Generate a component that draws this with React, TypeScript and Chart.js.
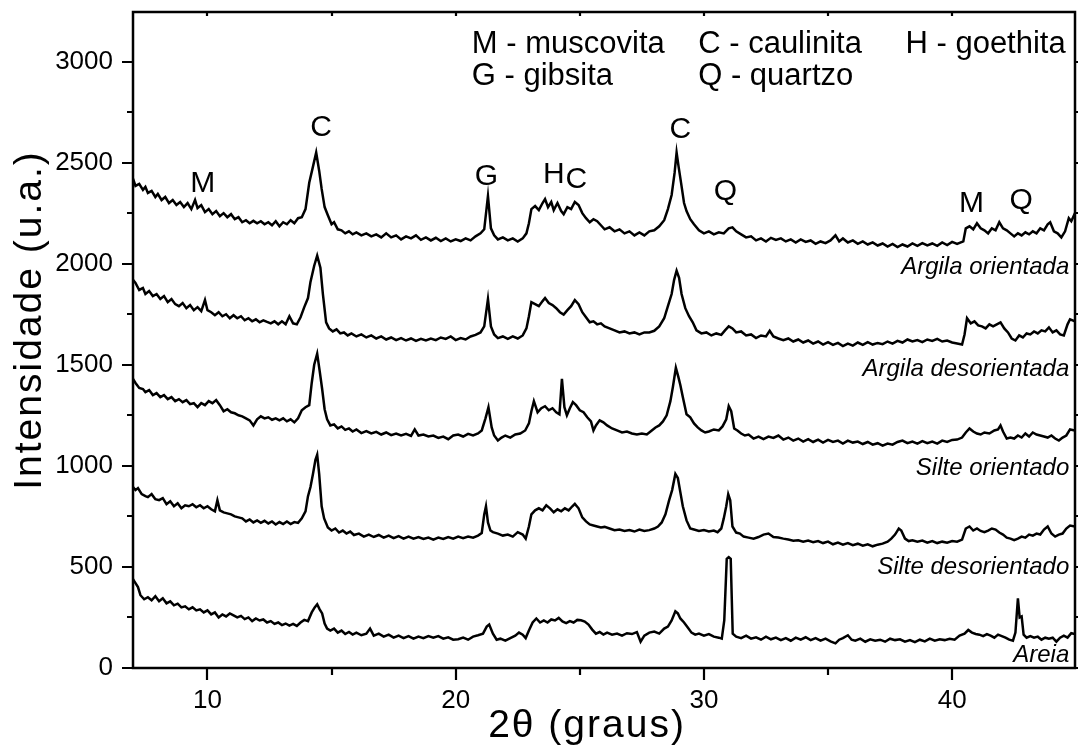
import { useEffect, useRef } from "react";
import { Chart, registerables } from "chart.js";

Chart.register(...registerables);

// ---------- axis ranges & ticks ----------
const X_MIN = 7;
const X_MAX = 44.95;
const Y_MIN = 0;
const Y_MAX = 3245;
const xMajorTicks = [10, 20, 30, 40];
const xMinorTicks = [15, 25, 35];
const yMajorTicks = [0, 500, 1000, 1500, 2000, 2500, 3000];
const yMinorTicks = [250, 750, 1250, 1750, 2250, 2750];

const xTitle = "2\u03B8 (graus)";
const yTitle = "Intensidade (u.a.)";

// ---------- series (2θ, intensity) ----------
const argilaOrientada: [number, number][] = [
  [7.0,2420],[7.1,2385],[7.25,2395],[7.4,2365],[7.5,2380],[7.6,2350],[7.75,2360],[7.9,2330],[8.0,2345],[8.15,2315],[8.3,2330],[8.45,2300],[8.6,2315],[8.75,2290],[8.9,2305],[9.05,2280],[9.2,2300],[9.35,2270],[9.5,2315],[9.6,2275],[9.75,2290],[9.9,2255],[10.05,2270],[10.2,2245],[10.35,2260],[10.5,2235],[10.65,2250],[10.8,2230],[10.95,2245],[11.1,2220],[11.25,2230],[11.4,2205],[11.55,2215],[11.7,2200],[11.85,2212],[12.0,2200],[12.15,2210],[12.3,2195],[12.45,2205],[12.6,2190],[12.75,2210],[12.9,2185],[13.05,2205],[13.2,2195],[13.35,2215],[13.5,2200],[13.65,2225],[13.8,2230],[13.95,2270],[14.1,2400],[14.25,2480],[14.38,2550],[14.5,2460],[14.6,2370],[14.72,2280],[14.85,2240],[15.0,2195],[15.1,2205],[15.25,2170],[15.4,2165],[15.55,2150],[15.7,2160],[15.85,2145],[16.0,2155],[16.2,2140],[16.4,2150],[16.6,2135],[16.8,2145],[17.0,2130],[17.2,2150],[17.4,2130],[17.6,2140],[17.8,2120],[18.0,2135],[18.2,2125],[18.4,2140],[18.6,2118],[18.8,2130],[19.0,2115],[19.2,2128],[19.4,2112],[19.6,2125],[19.8,2110],[20.0,2120],[20.2,2112],[20.4,2125],[20.6,2115],[20.8,2135],[21.0,2150],[21.15,2170],[21.3,2335],[21.42,2175],[21.55,2140],[21.7,2120],[21.9,2130],[22.1,2115],[22.3,2125],[22.5,2110],[22.7,2125],[22.85,2150],[22.95,2200],[23.05,2270],[23.2,2285],[23.35,2265],[23.5,2300],[23.6,2320],[23.72,2280],[23.85,2305],[23.95,2265],[24.1,2300],[24.25,2260],[24.35,2245],[24.5,2280],[24.65,2270],[24.8,2305],[24.95,2290],[25.1,2250],[25.25,2225],[25.4,2205],[25.55,2220],[25.7,2210],[25.85,2190],[26.0,2170],[26.2,2180],[26.4,2160],[26.6,2170],[26.8,2150],[27.0,2160],[27.2,2140],[27.4,2155],[27.6,2140],[27.8,2160],[28.0,2165],[28.2,2185],[28.4,2215],[28.55,2270],[28.7,2340],[28.82,2450],[28.9,2550],[28.98,2480],[29.08,2400],[29.2,2300],[29.3,2260],[29.45,2220],[29.6,2195],[29.8,2165],[30.0,2150],[30.2,2160],[30.4,2145],[30.6,2155],[30.8,2150],[31.0,2175],[31.15,2180],[31.3,2160],[31.5,2145],[31.7,2130],[31.9,2135],[32.1,2115],[32.3,2125],[32.5,2110],[32.7,2128],[32.9,2118],[33.1,2125],[33.3,2110],[33.5,2120],[33.7,2105],[33.9,2120],[34.1,2108],[34.3,2115],[34.5,2098],[34.7,2110],[34.9,2102],[35.1,2115],[35.3,2140],[35.45,2110],[35.6,2125],[35.8,2105],[36.0,2115],[36.2,2098],[36.4,2110],[36.6,2095],[36.8,2105],[37.0,2090],[37.2,2100],[37.4,2085],[37.6,2098],[37.8,2082],[38.0,2095],[38.2,2085],[38.4,2100],[38.6,2088],[38.8,2102],[39.0,2090],[39.2,2100],[39.4,2088],[39.6,2105],[39.8,2092],[40.0,2108],[40.2,2098],[40.45,2110],[40.55,2175],[40.7,2185],[40.85,2170],[41.0,2200],[41.15,2175],[41.3,2165],[41.45,2150],[41.6,2175],[41.75,2165],[41.9,2205],[42.05,2175],[42.2,2165],[42.35,2150],[42.5,2135],[42.65,2150],[42.8,2140],[42.95,2155],[43.1,2145],[43.25,2160],[43.4,2150],[43.55,2175],[43.7,2165],[43.85,2195],[43.95,2205],[44.1,2160],[44.25,2150],[44.4,2130],[44.55,2160],[44.7,2225],[44.8,2210],[44.95,2250]
];

const argilaDesorientada: [number, number][] = [
  [7.0,1920],[7.1,1905],[7.25,1870],[7.4,1880],[7.5,1850],[7.65,1865],[7.8,1840],[7.95,1850],[8.1,1825],[8.25,1840],[8.4,1810],[8.55,1825],[8.7,1800],[8.85,1790],[9.0,1805],[9.15,1780],[9.3,1795],[9.45,1770],[9.6,1785],[9.75,1765],[9.9,1820],[10.0,1770],[10.15,1760],[10.3,1745],[10.45,1760],[10.6,1740],[10.75,1750],[10.9,1730],[11.05,1745],[11.2,1730],[11.35,1740],[11.5,1720],[11.65,1730],[11.8,1715],[11.95,1725],[12.1,1710],[12.25,1720],[12.4,1712],[12.55,1705],[12.7,1715],[12.85,1700],[13.0,1715],[13.15,1700],[13.3,1740],[13.45,1705],[13.6,1700],[13.75,1735],[13.9,1785],[14.05,1830],[14.15,1910],[14.3,1990],[14.42,2040],[14.55,1980],[14.65,1850],[14.78,1710],[14.9,1680],[15.05,1665],[15.2,1675],[15.35,1655],[15.5,1660],[15.65,1645],[15.8,1655],[16.0,1640],[16.2,1650],[16.4,1635],[16.6,1645],[16.8,1630],[17.0,1640],[17.2,1625],[17.4,1635],[17.6,1622],[17.8,1632],[18.0,1620],[18.2,1630],[18.4,1618],[18.6,1628],[18.8,1620],[19.0,1630],[19.2,1622],[19.4,1635],[19.6,1628],[19.8,1640],[20.0,1622],[20.2,1632],[20.4,1625],[20.6,1640],[20.8,1648],[21.0,1660],[21.15,1690],[21.3,1825],[21.42,1690],[21.55,1650],[21.7,1632],[21.9,1640],[22.1,1628],[22.3,1640],[22.5,1630],[22.7,1645],[22.85,1680],[22.95,1740],[23.05,1810],[23.2,1800],[23.35,1790],[23.5,1815],[23.6,1830],[23.75,1805],[23.9,1795],[24.05,1780],[24.2,1760],[24.35,1748],[24.5,1770],[24.65,1790],[24.8,1820],[24.95,1800],[25.1,1760],[25.25,1735],[25.4,1710],[25.55,1715],[25.7,1700],[25.85,1705],[26.0,1690],[26.2,1680],[26.4,1670],[26.6,1660],[26.8,1665],[27.0,1655],[27.2,1660],[27.4,1650],[27.6,1660],[27.8,1660],[28.0,1668],[28.2,1690],[28.4,1730],[28.55,1790],[28.7,1850],[28.8,1920],[28.9,1965],[29.0,1930],[29.1,1850],[29.25,1780],[29.4,1740],[29.55,1710],[29.7,1670],[29.9,1655],[30.1,1660],[30.3,1645],[30.5,1655],[30.7,1648],[30.85,1670],[31.0,1690],[31.15,1680],[31.3,1660],[31.5,1665],[31.7,1645],[31.9,1650],[32.1,1632],[32.3,1645],[32.5,1640],[32.65,1668],[32.8,1640],[33.0,1630],[33.2,1622],[33.4,1630],[33.6,1615],[33.8,1625],[34.0,1610],[34.2,1620],[34.4,1605],[34.6,1615],[34.8,1600],[35.0,1612],[35.2,1598],[35.4,1608],[35.6,1592],[35.8,1605],[36.0,1595],[36.2,1610],[36.4,1598],[36.6,1612],[36.8,1600],[37.0,1608],[37.2,1602],[37.4,1615],[37.6,1605],[37.8,1618],[38.0,1610],[38.2,1625],[38.4,1615],[38.6,1622],[38.8,1612],[39.0,1625],[39.2,1618],[39.4,1628],[39.6,1615],[39.8,1620],[40.0,1610],[40.2,1605],[40.4,1600],[40.5,1650],[40.6,1730],[40.75,1705],[40.9,1715],[41.05,1695],[41.2,1690],[41.35,1680],[41.5,1700],[41.65,1690],[41.8,1700],[41.95,1710],[42.1,1680],[42.25,1660],[42.4,1630],[42.55,1620],[42.7,1645],[42.85,1635],[43.0,1655],[43.15,1650],[43.3,1665],[43.45,1655],[43.6,1670],[43.75,1665],[43.9,1685],[44.05,1660],[44.2,1670],[44.35,1650],[44.5,1645],[44.65,1700],[44.75,1725],[44.95,1715]
];

const silteOrientado: [number, number][] = [
  [7.0,1430],[7.1,1410],[7.25,1385],[7.4,1380],[7.5,1365],[7.65,1375],[7.8,1350],[7.95,1360],[8.1,1340],[8.25,1350],[8.4,1330],[8.55,1340],[8.7,1320],[8.85,1330],[9.0,1315],[9.15,1325],[9.3,1305],[9.45,1310],[9.6,1290],[9.75,1310],[9.9,1300],[10.05,1320],[10.2,1310],[10.35,1325],[10.5,1300],[10.65,1270],[10.8,1280],[10.95,1265],[11.1,1260],[11.25,1250],[11.4,1245],[11.55,1235],[11.7,1225],[11.85,1200],[12.0,1230],[12.15,1245],[12.3,1235],[12.45,1240],[12.6,1228],[12.75,1235],[12.9,1225],[13.05,1235],[13.2,1220],[13.35,1230],[13.5,1215],[13.65,1235],[13.8,1275],[13.95,1290],[14.1,1300],[14.2,1410],[14.3,1500],[14.42,1555],[14.52,1470],[14.62,1380],[14.72,1280],[14.82,1230],[14.95,1200],[15.1,1205],[15.25,1185],[15.4,1195],[15.55,1178],[15.7,1185],[15.85,1170],[16.0,1180],[16.2,1162],[16.4,1172],[16.6,1160],[16.8,1168],[17.0,1155],[17.2,1165],[17.4,1152],[17.6,1160],[17.8,1150],[18.0,1158],[18.2,1148],[18.35,1180],[18.5,1150],[18.7,1155],[18.9,1145],[19.1,1150],[19.3,1138],[19.5,1145],[19.7,1132],[19.9,1150],[20.1,1155],[20.3,1145],[20.5,1158],[20.7,1150],[20.9,1160],[21.05,1175],[21.2,1235],[21.32,1290],[21.45,1190],[21.55,1150],[21.7,1125],[21.85,1140],[22.0,1150],[22.2,1140],[22.4,1155],[22.6,1160],[22.8,1175],[22.95,1210],[23.05,1270],[23.15,1320],[23.3,1265],[23.45,1285],[23.6,1295],[23.75,1275],[23.9,1285],[24.05,1265],[24.18,1255],[24.28,1430],[24.38,1290],[24.48,1250],[24.6,1285],[24.72,1315],[24.85,1300],[25.0,1275],[25.15,1265],[25.3,1240],[25.45,1220],[25.55,1175],[25.65,1200],[25.8,1225],[25.95,1215],[26.1,1200],[26.3,1185],[26.5,1175],[26.7,1165],[26.9,1170],[27.1,1160],[27.3,1155],[27.5,1160],[27.7,1155],[27.9,1175],[28.05,1190],[28.2,1200],[28.35,1220],[28.5,1250],[28.65,1320],[28.75,1390],[28.87,1485],[28.97,1440],[29.05,1400],[29.15,1340],[29.3,1255],[29.45,1240],[29.6,1210],[29.75,1190],[29.9,1175],[30.05,1165],[30.2,1170],[30.4,1180],[30.6,1175],[30.75,1195],[30.9,1230],[31.0,1295],[31.1,1270],[31.22,1185],[31.35,1175],[31.5,1160],[31.65,1150],[31.8,1155],[32.0,1135],[32.2,1145],[32.4,1132],[32.6,1145],[32.8,1138],[33.0,1150],[33.2,1130],[33.4,1140],[33.6,1125],[33.8,1135],[34.0,1120],[34.2,1132],[34.4,1118],[34.6,1130],[34.8,1115],[35.0,1128],[35.2,1118],[35.4,1125],[35.6,1110],[35.8,1125],[36.0,1115],[36.2,1120],[36.4,1108],[36.6,1118],[36.8,1105],[37.0,1112],[37.2,1100],[37.4,1110],[37.6,1105],[37.8,1118],[38.0,1125],[38.2,1112],[38.4,1120],[38.6,1110],[38.8,1122],[39.0,1112],[39.2,1120],[39.4,1110],[39.6,1125],[39.8,1118],[40.0,1128],[40.2,1130],[40.4,1140],[40.55,1165],[40.7,1185],[40.85,1170],[41.0,1160],[41.15,1155],[41.3,1165],[41.5,1160],[41.7,1175],[41.85,1180],[41.95,1200],[42.05,1170],[42.2,1135],[42.35,1140],[42.5,1135],[42.65,1150],[42.8,1140],[42.95,1160],[43.1,1145],[43.25,1165],[43.4,1155],[43.55,1150],[43.7,1145],[43.85,1140],[44.0,1150],[44.15,1135],[44.3,1125],[44.45,1140],[44.6,1150],[44.75,1180],[44.95,1175]
];

const silteDesorientado: [number, number][] = [
  [7.0,895],[7.1,880],[7.2,890],[7.35,860],[7.5,850],[7.6,845],[7.75,860],[7.9,835],[8.05,830],[8.2,840],[8.35,810],[8.5,825],[8.65,800],[8.8,815],[8.95,790],[9.1,805],[9.25,800],[9.4,810],[9.55,795],[9.7,805],[9.85,790],[10.0,800],[10.15,785],[10.3,775],[10.4,830],[10.5,780],[10.65,770],[10.8,765],[10.95,760],[11.1,750],[11.25,745],[11.4,740],[11.55,725],[11.7,735],[11.85,720],[12.0,730],[12.15,718],[12.3,728],[12.45,715],[12.6,725],[12.75,710],[12.9,722],[13.05,712],[13.2,725],[13.35,712],[13.5,722],[13.65,718],[13.8,740],[13.95,775],[14.05,850],[14.15,895],[14.25,960],[14.35,1030],[14.42,1055],[14.5,960],[14.6,800],[14.7,740],[14.85,695],[15.0,680],[15.15,690],[15.3,670],[15.45,680],[15.6,665],[15.75,675],[15.9,658],[16.1,665],[16.3,650],[16.5,660],[16.7,648],[16.9,658],[17.1,645],[17.3,655],[17.5,642],[17.7,652],[17.9,640],[18.1,650],[18.3,640],[18.5,648],[18.7,638],[18.9,645],[19.1,635],[19.3,645],[19.5,638],[19.7,648],[19.9,640],[20.1,650],[20.3,642],[20.5,650],[20.7,645],[20.9,655],[21.05,668],[21.15,760],[21.22,800],[21.3,720],[21.4,680],[21.5,672],[21.7,665],[21.9,655],[22.1,660],[22.3,650],[22.5,672],[22.7,660],[22.82,640],[22.95,700],[23.05,760],[23.2,780],[23.35,790],[23.5,780],[23.65,805],[23.8,790],[23.95,770],[24.1,785],[24.25,775],[24.4,790],[24.55,780],[24.7,800],[24.8,812],[24.95,790],[25.1,745],[25.25,725],[25.4,710],[25.55,705],[25.7,700],[25.85,695],[26.0,698],[26.2,690],[26.4,682],[26.6,685],[26.8,678],[27.0,682],[27.2,675],[27.4,685],[27.6,678],[27.8,682],[28.0,690],[28.15,700],[28.3,720],[28.45,760],[28.6,830],[28.72,880],[28.85,960],[28.95,940],[29.05,870],[29.15,800],[29.3,730],[29.45,690],[29.6,685],[29.8,678],[30.0,682],[30.2,675],[30.4,680],[30.55,672],[30.7,690],[30.8,740],[30.9,800],[30.98,860],[31.06,830],[31.15,700],[31.3,670],[31.45,665],[31.6,650],[31.8,645],[32.0,640],[32.2,648],[32.4,660],[32.6,665],[32.8,648],[33.0,645],[33.2,640],[33.4,636],[33.6,630],[33.8,632],[34.0,625],[34.2,630],[34.4,622],[34.6,628],[34.8,618],[35.0,625],[35.2,612],[35.4,620],[35.6,610],[35.8,618],[36.0,608],[36.2,615],[36.4,605],[36.6,612],[36.8,602],[37.0,610],[37.2,615],[37.4,625],[37.55,640],[37.7,660],[37.85,690],[37.95,680],[38.1,640],[38.25,628],[38.4,632],[38.6,625],[38.8,630],[39.0,620],[39.2,628],[39.4,618],[39.6,625],[39.8,620],[40.0,628],[40.2,625],[40.4,635],[40.55,690],[40.7,700],[40.85,680],[41.0,690],[41.15,678],[41.3,672],[41.45,680],[41.6,690],[41.75,685],[41.9,670],[42.05,660],[42.2,645],[42.35,640],[42.5,632],[42.65,640],[42.8,650],[42.95,645],[43.1,660],[43.25,655],[43.4,665],[43.55,660],[43.7,685],[43.85,700],[44.0,665],[44.15,650],[44.3,660],[44.45,665],[44.6,690],[44.75,705],[44.95,700]
];

const areia: [number, number][] = [
  [7.0,440],[7.1,420],[7.2,400],[7.3,360],[7.45,340],[7.6,350],[7.75,335],[7.9,355],[8.05,330],[8.2,345],[8.35,320],[8.5,330],[8.65,310],[8.8,318],[8.95,300],[9.1,305],[9.25,290],[9.4,300],[9.55,285],[9.7,290],[9.85,275],[10.0,285],[10.15,265],[10.3,275],[10.45,250],[10.6,265],[10.75,255],[10.9,270],[11.05,260],[11.2,250],[11.35,258],[11.5,242],[11.65,250],[11.8,232],[11.95,245],[12.1,235],[12.25,240],[12.4,225],[12.55,232],[12.7,218],[12.85,225],[13.0,212],[13.15,220],[13.3,210],[13.45,218],[13.6,208],[13.75,225],[13.9,238],[14.05,232],[14.2,275],[14.32,300],[14.42,315],[14.52,290],[14.62,270],[14.72,220],[14.82,195],[14.95,185],[15.1,195],[15.25,175],[15.4,185],[15.55,168],[15.7,178],[15.85,165],[16.0,175],[16.2,162],[16.4,170],[16.55,195],[16.7,160],[16.9,170],[17.1,155],[17.3,165],[17.5,150],[17.7,160],[17.9,148],[18.1,158],[18.3,145],[18.5,155],[18.7,148],[18.9,158],[19.1,150],[19.3,158],[19.5,145],[19.7,152],[19.9,140],[20.1,142],[20.3,150],[20.5,140],[20.7,155],[20.9,162],[21.1,170],[21.25,205],[21.35,215],[21.5,170],[21.65,140],[21.8,145],[22.0,135],[22.2,148],[22.4,160],[22.55,175],[22.7,165],[22.82,148],[22.95,185],[23.1,225],[23.25,245],[23.4,225],[23.55,235],[23.7,225],[23.85,240],[24.0,235],[24.15,248],[24.3,230],[24.45,222],[24.6,232],[24.75,225],[24.9,238],[25.05,236],[25.2,230],[25.35,215],[25.5,190],[25.65,170],[25.8,178],[25.95,165],[26.1,175],[26.3,165],[26.5,170],[26.7,160],[26.9,172],[27.1,168],[27.3,178],[27.45,130],[27.6,160],[27.8,175],[28.0,180],[28.2,170],[28.4,195],[28.55,205],[28.7,235],[28.85,280],[28.95,270],[29.05,245],[29.2,225],[29.35,200],[29.5,175],[29.65,165],[29.8,170],[30.0,160],[30.2,168],[30.4,155],[30.6,150],[30.72,145],[30.82,235],[30.92,540],[31.0,548],[31.08,540],[31.16,170],[31.3,155],[31.5,148],[31.7,160],[31.9,145],[32.1,152],[32.3,140],[32.5,155],[32.7,142],[32.9,150],[33.1,138],[33.3,148],[33.5,135],[33.7,150],[33.9,140],[34.1,152],[34.3,138],[34.5,148],[34.7,135],[34.9,145],[35.1,132],[35.3,122],[35.45,140],[35.6,148],[35.8,162],[35.95,140],[36.1,135],[36.3,145],[36.5,130],[36.7,142],[36.9,135],[37.1,140],[37.3,130],[37.5,145],[37.7,138],[37.9,142],[38.1,130],[38.3,138],[38.5,128],[38.7,140],[38.9,132],[39.1,145],[39.3,135],[39.5,142],[39.7,138],[39.9,145],[40.1,140],[40.3,160],[40.5,170],[40.65,188],[40.8,175],[40.95,168],[41.1,165],[41.25,158],[41.4,168],[41.55,160],[41.7,150],[41.85,165],[42.0,158],[42.15,150],[42.3,140],[42.45,135],[42.55,175],[42.65,345],[42.72,250],[42.8,255],[42.88,165],[43.0,150],[43.15,158],[43.3,150],[43.45,155],[43.6,140],[43.75,150],[43.9,145],[44.05,150],[44.2,130],[44.35,150],[44.5,160],[44.65,150],[44.8,172],[44.95,168]
];

const seriesNames = ["Argila orientada", "Argila desorientada", "Silte orientado", "Silte desorientado", "Areia"];
const seriesData = [argilaOrientada, argilaDesorientada, silteOrientado, silteDesorientado, areia];

// sample label baselines (intensity units), right-aligned at SAMPLE_LABEL_X
const SAMPLE_LABEL_X = 44.72;
const sampleLabelY = [1948, 1443, 956, 463, 30];

// peak letters: [text, 2θ, baseline intensity]
const peakLabels: [string, number, number][] = [
  ["M", 9.81, 2355],
  ["C", 14.58, 2630],
  ["G", 21.24, 2389],
  ["H", 23.95, 2401],
  ["C", 24.86, 2372],
  ["C", 29.05, 2622],
  ["Q", 30.87, 2315],
  ["M", 40.78, 2256],
  ["Q", 42.78, 2271],
];

// mineral key: [text, 2θ (left), baseline intensity]
const mineralKey: [string, number, number][] = [
  ["M - muscovita", 20.65, 3044],
  ["C - caulinita", 29.77, 3044],
  ["H - goethita", 38.12, 3044],
  ["G - gibsita", 20.65, 2882],
  ["Q - quartzo", 29.77, 2882],
];

const FONT = "'Liberation Sans', Arial, Helvetica, sans-serif";

const decorPlugin = {
  id: "decor",
  afterDatasetsDraw(chart: any) {
    const { ctx, chartArea: a } = chart;
    const xs = chart.scales.x;
    const ys = chart.scales.y;
    ctx.save();
    ctx.strokeStyle = "#000";
    ctx.fillStyle = "#000";
    ctx.lineCap = "butt";
    // frame
    ctx.lineWidth = 2.5;
    ctx.strokeRect(a.left, a.top, a.right - a.left, a.bottom - a.top);
    // ticks
    ctx.lineWidth = 2.2;
    ctx.beginPath();
    for (const v of xMajorTicks) {
      const p = Math.round(xs.getPixelForValue(v));
      ctx.moveTo(p, a.bottom); ctx.lineTo(p, a.bottom + 12);
      ctx.moveTo(p, a.top); ctx.lineTo(p, a.top + 4);
    }
    for (const v of xMinorTicks) {
      const p = Math.round(xs.getPixelForValue(v));
      ctx.moveTo(p, a.bottom); ctx.lineTo(p, a.bottom + 7);
      ctx.moveTo(p, a.top); ctx.lineTo(p, a.top + 4);
    }
    for (const v of yMajorTicks) {
      const p = Math.round(ys.getPixelForValue(v));
      ctx.moveTo(a.left, p); ctx.lineTo(a.left - 11, p);
      ctx.moveTo(a.right, p); ctx.lineTo(a.right + 5, p);
    }
    for (const v of yMinorTicks) {
      const p = Math.round(ys.getPixelForValue(v));
      ctx.moveTo(a.left, p); ctx.lineTo(a.left - 6, p);
      ctx.moveTo(a.right, p); ctx.lineTo(a.right + 5, p);
    }
    ctx.stroke();

    // peak letters
    ctx.font = `30px ${FONT}`;
    ctx.textAlign = "center";
    ctx.textBaseline = "alphabetic";
    for (const [t, x, y] of peakLabels) {
      ctx.fillText(t, xs.getPixelForValue(x), ys.getPixelForValue(y));
    }
    // mineral key
    ctx.font = `31px ${FONT}`;
    ctx.textAlign = "left";
    for (const [t, x, y] of mineralKey) {
      ctx.fillText(t, xs.getPixelForValue(x), ys.getPixelForValue(y));
    }
    // sample labels
    ctx.font = `italic 24px ${FONT}`;
    ctx.textAlign = "right";
    seriesNames.forEach((n, i) => {
      ctx.fillText(n, xs.getPixelForValue(SAMPLE_LABEL_X), ys.getPixelForValue(sampleLabelY[i]));
    });

    // axis titles
    ctx.font = `39px ${FONT}`;
    try { (ctx as any).letterSpacing = "2px"; } catch (e) { /* ignore */ }
    ctx.textAlign = "center";
    ctx.textBaseline = "middle";
    ctx.fillText(xTitle, 587, 726);
    ctx.save();
    ctx.translate(30, 320);
    ctx.rotate(-Math.PI / 2);
    ctx.fillText(yTitle, 0, 0);
    ctx.restore();
    try { (ctx as any).letterSpacing = "0px"; } catch (e) { /* ignore */ }
    ctx.restore();
  },
};

export default function App() {
  const ref = useRef<HTMLCanvasElement | null>(null);
  useEffect(() => {
    if (!ref.current) return;
    const chart = new Chart(ref.current, {
      type: "line",
      data: {
        datasets: seriesData.map((s, i) => ({
          label: seriesNames[i],
          data: s.map(([x, y]) => ({ x, y })),
          borderColor: "#000",
          borderWidth: 2.5,
          pointRadius: 0,
          tension: 0,
          fill: false,
        })),
      },
      options: {
        animation: false,
        responsive: false,
        devicePixelRatio: 1,
        layout: { padding: { top: 12, right: 3, left: 0, bottom: 0 } },
        plugins: { legend: { display: false }, tooltip: { enabled: false } },
        scales: {
          x: {
            type: "linear",
            min: X_MIN,
            max: X_MAX,
            grid: { display: false, drawTicks: false },
            border: { display: false },
            afterBuildTicks: (s: any) => { s.ticks = xMajorTicks.map((v) => ({ value: v })); },
            afterFit: (s: any) => { s.height = 81; s.paddingLeft = 0; s.paddingRight = 0; },
            ticks: { color: "#000", font: { size: 26, family: FONT }, padding: 17, maxRotation: 0, autoSkip: false, callback: (v: any) => String(v) },
          },
          y: {
            type: "linear",
            min: Y_MIN,
            max: Y_MAX,
            grid: { display: false, drawTicks: false },
            border: { display: false },
            afterBuildTicks: (s: any) => { s.ticks = yMajorTicks.map((v) => ({ value: v })); },
            afterFit: (s: any) => { s.width = 133; s.paddingTop = 0; s.paddingBottom = 0; },
            ticks: { color: "#000", font: { size: 26, family: FONT }, padding: 20, autoSkip: false, callback: (v: any) => String(v) },
          },
        },
      },
      plugins: [decorPlugin],
    });
    return () => chart.destroy();
  }, []);
  return (
    <div style={{ position: "absolute", left: 0, top: 0, width: 1078, height: 749, background: "#fff" }}>
      <canvas ref={ref} width={1078} height={749} />
    </div>
  );
}
